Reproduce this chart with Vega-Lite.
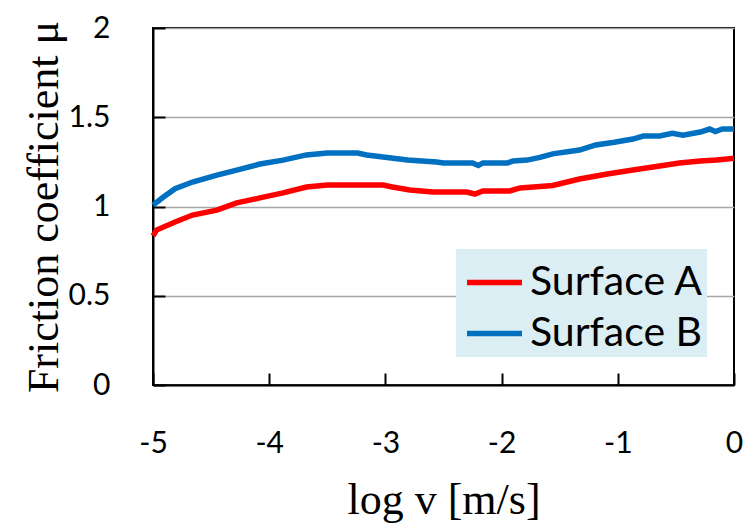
{
  "$schema": "https://vega.github.io/schema/vega-lite/v6.json",
  "width": 581,
  "height": 357,
  "autosize": {"type": "none"},
  "padding": {"left": 153, "top": 28, "right": 15, "bottom": 146},
  "background": "white",
  "config": {
    "view": {"stroke": "black", "strokeWidth": 2},
    "axis": {
      "domainColor": "black",
      "domainWidth": 2,
      "tickColor": "black",
      "tickWidth": 2,
      "labelFont": "Lato",
      "labelFontSize": 30,
      "labelColor": "black",
      "labelFlush": false,
      "titleFont": "Liberation Serif",
      "titleFontSize": 44,
      "titleFontWeight": "normal",
      "titleColor": "black",
      "gridColor": "#A6A6A6",
      "gridWidth": 1.5
    }
  },
  "data": {
    "values": [
      {"x": -5.00, "y": 0.835, "s": "Surface A"},
      {"x": -4.97, "y": 0.868, "s": "Surface A"},
      {"x": -4.81, "y": 0.913, "s": "Surface A"},
      {"x": -4.66, "y": 0.952, "s": "Surface A"},
      {"x": -4.45, "y": 0.98, "s": "Surface A"},
      {"x": -4.28, "y": 1.02, "s": "Surface A"},
      {"x": -4.08, "y": 1.048, "s": "Surface A"},
      {"x": -3.88, "y": 1.076, "s": "Surface A"},
      {"x": -3.68, "y": 1.109, "s": "Surface A"},
      {"x": -3.50, "y": 1.12, "s": "Surface A"},
      {"x": -3.30, "y": 1.12, "s": "Surface A"},
      {"x": -3.02, "y": 1.12, "s": "Surface A"},
      {"x": -2.94, "y": 1.109, "s": "Surface A"},
      {"x": -2.79, "y": 1.092, "s": "Surface A"},
      {"x": -2.59, "y": 1.081, "s": "Surface A"},
      {"x": -2.30, "y": 1.081, "s": "Surface A"},
      {"x": -2.23, "y": 1.07, "s": "Surface A"},
      {"x": -2.16, "y": 1.087, "s": "Surface A"},
      {"x": -1.93, "y": 1.087, "s": "Surface A"},
      {"x": -1.84, "y": 1.104, "s": "Surface A"},
      {"x": -1.67, "y": 1.112, "s": "Surface A"},
      {"x": -1.56, "y": 1.118, "s": "Surface A"},
      {"x": -1.33, "y": 1.154, "s": "Surface A"},
      {"x": -1.09, "y": 1.182, "s": "Surface A"},
      {"x": -0.87, "y": 1.204, "s": "Surface A"},
      {"x": -0.64, "y": 1.227, "s": "Surface A"},
      {"x": -0.47, "y": 1.244, "s": "Surface A"},
      {"x": -0.29, "y": 1.255, "s": "Surface A"},
      {"x": -0.15, "y": 1.26, "s": "Surface A"},
      {"x": -0.06, "y": 1.266, "s": "Surface A"},
      {"x": 0.00, "y": 1.27, "s": "Surface A"},
      {"x": -5.00, "y": 1.008, "s": "Surface B"},
      {"x": -4.91, "y": 1.053, "s": "Surface B"},
      {"x": -4.81, "y": 1.100, "s": "Surface B"},
      {"x": -4.66, "y": 1.137, "s": "Surface B"},
      {"x": -4.45, "y": 1.176, "s": "Surface B"},
      {"x": -4.28, "y": 1.204, "s": "Surface B"},
      {"x": -4.08, "y": 1.238, "s": "Surface B"},
      {"x": -3.88, "y": 1.26, "s": "Surface B"},
      {"x": -3.68, "y": 1.289, "s": "Surface B"},
      {"x": -3.50, "y": 1.30, "s": "Surface B"},
      {"x": -3.24, "y": 1.30, "s": "Surface B"},
      {"x": -3.16, "y": 1.289, "s": "Surface B"},
      {"x": -3.02, "y": 1.277, "s": "Surface B"},
      {"x": -2.81, "y": 1.26, "s": "Surface B"},
      {"x": -2.56, "y": 1.249, "s": "Surface B"},
      {"x": -2.50, "y": 1.244, "s": "Surface B"},
      {"x": -2.25, "y": 1.244, "s": "Surface B"},
      {"x": -2.20, "y": 1.23, "s": "Surface B"},
      {"x": -2.16, "y": 1.244, "s": "Surface B"},
      {"x": -1.95, "y": 1.244, "s": "Surface B"},
      {"x": -1.90, "y": 1.255, "s": "Surface B"},
      {"x": -1.78, "y": 1.26, "s": "Surface B"},
      {"x": -1.67, "y": 1.275, "s": "Surface B"},
      {"x": -1.56, "y": 1.295, "s": "Surface B"},
      {"x": -1.33, "y": 1.316, "s": "Surface B"},
      {"x": -1.19, "y": 1.345, "s": "Surface B"},
      {"x": -1.03, "y": 1.36, "s": "Surface B"},
      {"x": -0.87, "y": 1.378, "s": "Surface B"},
      {"x": -0.78, "y": 1.395, "s": "Surface B"},
      {"x": -0.64, "y": 1.395, "s": "Surface B"},
      {"x": -0.53, "y": 1.41, "s": "Surface B"},
      {"x": -0.44, "y": 1.40, "s": "Surface B"},
      {"x": -0.29, "y": 1.417, "s": "Surface B"},
      {"x": -0.21, "y": 1.434, "s": "Surface B"},
      {"x": -0.16, "y": 1.42, "s": "Surface B"},
      {"x": -0.10, "y": 1.434, "s": "Surface B"},
      {"x": 0.00, "y": 1.434, "s": "Surface B"}
    ]
  },
  "mark": {"type": "line", "strokeWidth": 5.5},
  "encoding": {
    "x": {
      "field": "x",
      "type": "quantitative",
      "scale": {"domain": [-5, 0], "nice": false, "zero": false},
      "axis": {
        "title": "log v [m/s]",
        "values": [-5, -4, -3, -2, -1, 0],
        "labelExpr": "'' + datum.value",
        "grid": false,
        "tickSize": -12,
        "labelPadding": 55,
        "titlePadding": 20
      }
    },
    "y": {
      "field": "y",
      "type": "quantitative",
      "scale": {"domain": [0, 2], "nice": false},
      "axis": {
        "title": "Friction coefficient μ",
        "values": [0, 0.5, 1, 1.5, 2],
        "labelExpr": "'' + datum.value",
        "grid": true,
        "tickSize": -12,
        "labelPadding": 55,
        "titlePadding": 2
      }
    },
    "color": {
      "field": "s",
      "type": "nominal",
      "scale": {"domain": ["Surface A", "Surface B"], "range": ["#FF0000", "#0070C0"]},
      "legend": {
        "orient": "none",
        "legendX": 303,
        "legendY": 221,
        "title": null,
        "fillColor": "#DAEEF3",
        "padding": 3,
        "symbolType": "stroke",
        "symbolSize": 3025,
        "symbolStrokeWidth": 5.5,
        "symbolOffset": 5,
        "labelFont": "Lato",
        "labelFontSize": 41,
        "labelLimit": 400,
        "labelColor": "black",
        "labelOffset": 5,
        "rowPadding": -9
      }
    }
  }
}
